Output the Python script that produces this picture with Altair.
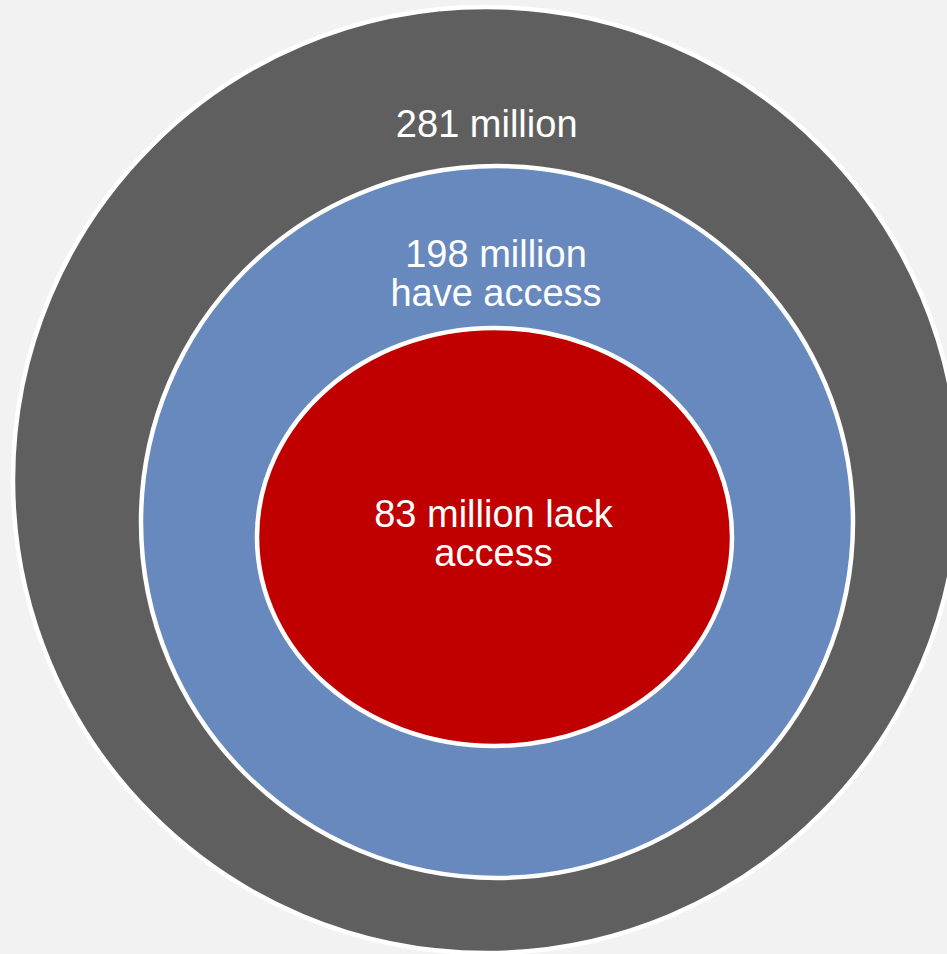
import altair as alt
import pandas as pd

# ---- data ----
categories = ["Total", "Have access", "Lack access"]
values = [281, 198, 83]
label_lines = [["281 million"], ["198 million", "have access"], ["83 million lack", "access"]]

df = pd.DataFrame({
    "category": categories,
    "value": values,
    "label": ["\n".join(l) for l in label_lines],
})

# ---- styling / layout (pixels) ----
colors = ["#5f5f5f", "#6889bd", "#c00000"]
color_scale = alt.Scale(domain=categories, range=colors)

# centre x, centre y, radius x, radius y
shape_layout = {
    "Total": (486, 480, 473, 473),
    "Have access": (497, 522, 356, 356),
    "Lack access": (494.5, 537, 237.5, 209),
}
label_layout = {
    "Total": (486.7, 137),
    "Have access": (496, 267),
    "Lack access": (493.5, 527),
}

base = alt.Chart(df)
layers = []
for cat in categories:
    cx, cy, rx, ry = shape_layout[cat]
    k = ry / rx
    path = f"M-1,0A1,{k:.4f},0,1,0,1,0A1,{k:.4f},0,1,0,-1,0Z"
    layers.append(
        base.transform_filter(alt.datum.category == cat)
        .mark_point(filled=True, shape=path, opacity=1, stroke="white", strokeWidth=4.5, strokeOpacity=1)
        .encode(
            x=alt.value(cx),
            y=alt.value(cy),
            size=alt.value(4 * rx * rx),
            color=alt.Color("category:N", scale=color_scale, legend=None),
        )
    )

for cat in categories:
    lx, ly = label_layout[cat]
    layers.append(
        base.transform_filter(alt.datum.category == cat)
        .mark_text(font="Liberation Sans", fontSize=38, color="white", align="center",
                   baseline="alphabetic", lineBreak="\n", lineHeight=39)
        .encode(x=alt.value(lx), y=alt.value(ly), text="label:N")
    )

chart = alt.layer(*layers).properties(
    width=947, height=954, background="#f2f2f2", padding=0, autosize="none"
).configure_view(stroke=None)

chart.save("out.html", embed_options={"renderer": "svg", "actions": False})
